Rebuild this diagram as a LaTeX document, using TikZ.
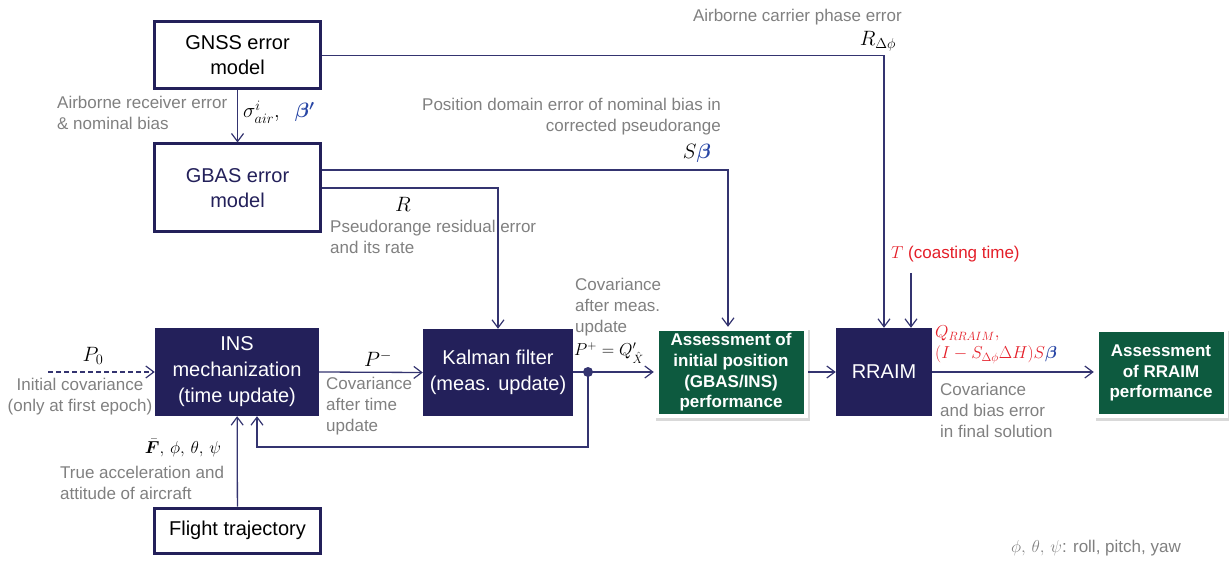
\documentclass[tikz,border=0pt]{standalone}
\usepackage{amsmath,bm}
\usepackage{fontspec}
\setmainfont{Liberation Sans}
\usetikzlibrary{arrows.meta,shadows}
\definecolor{navy}{RGB}{35,32,90}
\definecolor{linec}{RGB}{52,52,112}
\definecolor{grn}{RGB}{13,90,63}
\definecolor{gtext}{RGB}{128,128,128}
\definecolor{redc}{RGB}{228,30,40}
\definecolor{bluec}{RGB}{40,70,165}
\tikzset{
  wbox/.style={draw=navy, line width=3pt, fill=white, align=center, inner sep=0pt,
    font=\fontsize{20}{25}\selectfont},
  nbox/.style={fill=navy, text=white, align=center, inner sep=0pt,
    font=\fontsize{20}{26}\selectfont},
  gbox/.style={fill=white, drop shadow={opacity=0.3, shadow xshift=2pt, shadow yshift=-3pt},
    text=white, align=center, inner sep=0pt, font=\bfseries\fontsize{17}{20.7}\selectfont,
    path picture={\fill[grn] ([shift={(4.5pt,-4.5pt)}]path picture bounding box.north west)
      rectangle ([shift={(-4.5pt,4.5pt)}]path picture bounding box.south east);}},
  glab/.style={text=gtext, inner sep=0pt, font=\fontsize{17}{21}\selectfont},
  mlab/.style={inner sep=0pt, font=\fontsize{18}{21}\selectfont},
  mbig/.style={inner sep=0pt, font=\fontsize{20.74}{24}\selectfont},
  conn/.style={draw=linec, line width=1.3pt, -{Straight Barb[length=8pt,width=12pt,line width=1.2pt]}},
}
\begin{document}
\begin{tikzpicture}[x=1pt,y=-1pt]
\useasboundingbox (0,0) rectangle (1229,561);
% boxes
\node[wbox, minimum width=166pt, minimum height=67pt] (gnss) at (237.5,55.5) {GNSS error\\model};
\node[wbox, text=navy, minimum width=166pt, minimum height=88pt] (gbas) at (237.5,188) {GBAS error\\model};
\node[wbox, minimum width=166pt, minimum height=45pt] (flight) at (237.5,530.5) {Flight trajectory};
\node[nbox, minimum width=164pt, minimum height=88pt] (ins) at (237,372) {INS\\mechanization\\(time update)};
\node[nbox, minimum width=150pt, minimum height=87pt] (kal) at (498,372.5) {Kalman filter\\(meas. update)};
\node[nbox, minimum width=96pt, minimum height=88pt] (rraim) at (884,372) {RRAIM};
\node[gbox, minimum width=154pt, minimum height=91pt] (assA) at (731,372.5) {Assessment of\\initial position\\(GBAS/INS)\\performance};
\node[gbox, minimum width=134pt, minimum height=90pt] (assB) at (1161,373) {Assessment\\of RRAIM\\performance};
% connectors
\draw[conn] (gnss) -- (gbas);
\draw[conn] (gnss.east) -| (rraim.north);
\coordinate (tstart) at (911,273);
\draw[conn] (tstart) -- (tstart |- rraim.north);
\draw[conn] ([yshift=18pt]gbas.east) -| ([xshift=-3pt]assA.north);
\draw[conn] (gbas.east) -| (kal.north);
\draw[conn] (ins.east) -- (kal.west);
\draw[conn] (kal.east |- 0,372) -- (assA.west |- 0,372);
\coordinate (dot) at (588,372);
\fill[linec] (dot) circle (5pt);
\coordinate (fb) at (257,447);
\draw[conn] (dot) |- (fb) -- (fb |- ins.south);
\draw[conn] (flight) -- (ins);
\coordinate (p0s) at (48,372);
\draw[conn, dash pattern=on 5pt off 3pt] (p0s) -- (ins.west);
\draw[conn] (assA.east |- 0,372) -- (rraim.west |- 0,372);
\draw[conn] (rraim.east |- 0,372) -- (assB.west |- 0,372);
% labels
\node[glab, anchor=west, align=left] (l1) at (57,112.5) {Airborne receiver error\\\& nominal bias};
\node[mbig, anchor=west] (m1) at (243,112) {$\sigma^{i}_{air},\ \ \color{bluec}\bm{\beta'}$};
\node[glab, anchor=east] (l2) at (902,17) {Airborne carrier phase error};
\node[mbig] (m2) at (878,41) {$R_{\Delta\phi}$};
\node[glab, anchor=east, align=right] (l3) at (721,117) {Position domain error of nominal bias in\\corrected pseudorange};
\node[mbig] (m3) at (697,153) {$S\color{bluec}\bm{\beta}$};
\node[mbig] (m4) at (403,204) {$R$};
\node[glab, anchor=west, align=left] (l4) at (330,237) {Pseudorange residual error\\and its rate};
\node[anchor=west, inner sep=0pt, text=redc, font=\fontsize{17}{21}\selectfont] (l5) at (891,254) {{\fontsize{18}{21}\selectfont$T$} (coasting time)};
\node[glab, anchor=west, align=left] (l6) at (575,307) {Covariance\\after meas.\\update};
\node[mlab, anchor=west] (m6) at (574,353) {$P^{+}=Q'_{\hat{X}}$};
\node[mbig] (m7) at (378,359) {$P^{-}$};
\node[glab, anchor=west, align=left] (l7) at (326,406) {Covariance\\after time\\update};
\node[mbig] (m8) at (93,356) {$P_{0}$};
\node[glab, align=center] (l8) at (80,397) {Initial covariance\\(only at first epoch)};
\node[mlab] (m9) at (183,448) {$\bar{\bm{F}},\,\phi,\,\theta,\,\psi$};
\node[glab, anchor=west, align=left] (l9) at (60,483) {True acceleration and\\attitude of aircraft};
\node[mlab, anchor=west, align=left, text=redc] (m10) at (935,345) {$Q_{RRAIM},$\\$(I-S_{\Delta\phi}\Delta H)S{\color{bluec}\bm{\beta}}$};
\node[glab, anchor=west, align=left] (l10) at (940,410.5) {Covariance\\and bias error\\in final solution};
\node[glab, anchor=east] (l11) at (1181,548) {{\fontsize{18}{21}\selectfont$\phi,\,\theta,\,\psi$}: roll, pitch, yaw};
\end{tikzpicture}
\end{document}
